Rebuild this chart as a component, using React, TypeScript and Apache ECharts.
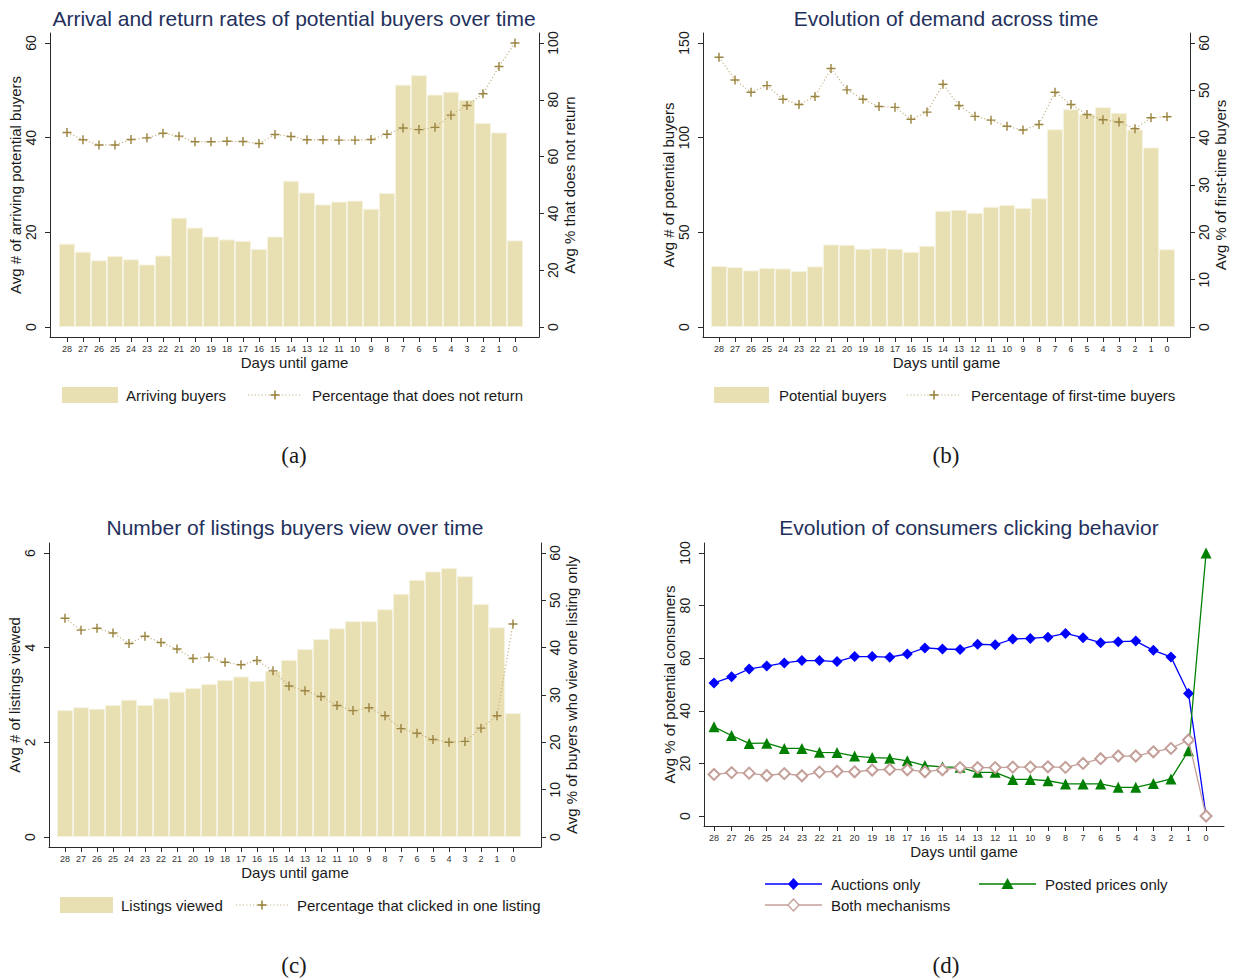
import React, { useEffect, useRef } from "react";
import * as echarts from "echarts";

// ---------------- data ----------------
const days = [28, 27, 26, 25, 24, 23, 22, 21, 20, 19, 18, 17, 16, 15, 14, 13, 12, 11, 10, 9, 8, 7, 6, 5, 4, 3, 2, 1, 0];

const arrivingBuyers = [17.6, 15.9, 14.1, 15.0, 14.3, 13.2, 15.1, 23.1, 21.0, 19.1, 18.5, 18.2, 16.5, 19.1, 30.9, 28.4, 25.9, 26.5, 26.7, 25.0, 28.3, 51.2, 53.2, 49.1, 49.7, 48.0, 43.1, 41.1, 18.3];
const pctNotReturn = [68.5, 65.9, 64.1, 64.1, 66.0, 66.6, 68.2, 67.2, 65.2, 65.2, 65.4, 65.3, 64.6, 67.8, 67.1, 65.9, 65.9, 65.8, 65.8, 66.0, 67.9, 70.1, 69.5, 70.3, 74.6, 78.0, 82.1, 91.7, 100];

const potentialBuyers = [32.2, 31.6, 29.9, 31.1, 30.9, 29.5, 32.0, 43.6, 43.4, 41.3, 41.8, 41.3, 39.7, 42.9, 61.4, 61.9, 60.3, 63.5, 64.5, 62.9, 68.0, 104.4, 115.0, 112.5, 116.1, 113.1, 104.3, 94.8, 41.0];
const pctFirstTime = [57.0, 52.2, 49.6, 51.0, 48.1, 47.0, 48.7, 54.6, 50.1, 48.1, 46.6, 46.4, 43.9, 45.4, 51.3, 46.8, 44.5, 43.7, 42.4, 41.6, 42.8, 49.6, 47.0, 44.9, 43.8, 43.3, 41.9, 44.2, 44.4];

const listingsViewed = [2.68, 2.74, 2.71, 2.79, 2.9, 2.79, 2.93, 3.07, 3.15, 3.23, 3.32, 3.39, 3.3, 3.51, 3.74, 3.97, 4.18, 4.41, 4.56, 4.56, 4.81, 5.14, 5.43, 5.61, 5.68, 5.51, 4.92, 4.43, 2.62];
const pctOneListing = [46.2, 43.7, 44.1, 43.1, 40.9, 42.4, 41.1, 39.7, 37.7, 38.0, 36.9, 36.4, 37.3, 35.1, 31.9, 30.9, 29.7, 27.8, 26.7, 27.3, 25.6, 22.9, 21.9, 20.6, 20.0, 20.2, 23.0, 25.6, 45.0];

const auctionsOnly = [50.6, 52.9, 55.9, 57.0, 58.2, 59.1, 59.1, 58.7, 60.6, 60.6, 60.4, 61.6, 63.9, 63.5, 63.3, 65.3, 65.1, 67.3, 67.5, 68.0, 69.4, 67.8, 65.9, 66.3, 66.5, 63.0, 60.5, 46.6, 0];
const postedOnly = [33.9, 30.6, 27.6, 27.7, 25.7, 25.7, 24.2, 24.1, 22.8, 22.2, 22.0, 21.0, 19.2, 18.7, 18.5, 16.6, 16.6, 13.9, 13.9, 13.4, 12.2, 12.2, 12.2, 10.9, 10.9, 12.4, 14.1, 24.8, 100];
const bothMechanisms = [15.8, 16.5, 16.3, 15.4, 16.1, 15.3, 16.7, 17.0, 16.8, 17.5, 17.7, 17.6, 16.8, 17.6, 18.4, 18.4, 18.4, 18.6, 18.6, 18.7, 18.5, 20.0, 21.8, 22.8, 22.8, 24.4, 25.7, 28.9, 0];

const ticksA = [0, 20, 40, 60];
const ticksARight = [0, 20, 40, 60, 80, 100];
const ticksB = [0, 50, 100, 150];
const ticksPct60 = [0, 10, 20, 30, 40, 50, 60];
const ticksC = [0, 2, 4, 6];
const ticksD = [0, 20, 40, 60, 80, 100];

// ---------------- styles ----------------
const SANS = "'Liberation Sans', Arial, sans-serif";
const SERIF = "'Liberation Serif', 'Times New Roman', serif";
const TITLE_COLOR = "#23305c";
const AXIS_COLOR = "#2a2a2a";
const TEXT_COLOR = "#1a1a1a";
const BAR_COLOR = "#e8dfb3";
const BAR_EDGE = "#f6f2e0";
const PLUS_COLOR = "#9c8540";
const DOT_COLOR = "#c4b386";
const BLUE = "#0000ff";
const GREEN = "#008000";
const ROSE = "#c49f99";
const PLUS = "path://M4.2,0H5.8V4.2H10V5.8H5.8V10H4.2V5.8H0V4.2H4.2Z";

const pairs = (vals: number[]) => days.map((d, i) => [d, vals[i]]);

function xAxisFor(gridIndex: number, min: number, max: number, nameGap: number) {
  return {
    type: "value",
    gridIndex,
    inverse: true,
    min,
    max,
    name: "Days until game",
    nameLocation: "middle",
    nameGap,
    nameTextStyle: { fontFamily: SANS, fontSize: 15, color: TEXT_COLOR },
    axisLine: { show: true, onZero: false, lineStyle: { color: AXIS_COLOR, width: 1 } },
    axisTick: { show: true, customValues: days, length: 5, lineStyle: { color: AXIS_COLOR, width: 1 } },
    axisLabel: { customValues: days, fontSize: 9, color: "#333", margin: 7, fontFamily: SANS },
    splitLine: { show: false },
  };
}

function yAxisFor(
  gridIndex: number,
  position: "left" | "right",
  min: number,
  max: number,
  ticks: number[],
  name: string,
) {
  const left = position === "left";
  return {
    type: "value",
    gridIndex,
    position,
    min,
    max,
    name,
    nameLocation: "middle",
    nameRotate: 90,
    nameGap: left ? 26 : 23,
    nameTextStyle: { fontFamily: SANS, fontSize: 15, color: TEXT_COLOR },
    axisLine: { show: true, onZero: false, lineStyle: { color: AXIS_COLOR, width: 1 } },
    axisTick: { show: true, customValues: ticks, length: 5, lineStyle: { color: AXIS_COLOR, width: 1 } },
    axisLabel: { customValues: ticks, rotate: 90, fontSize: 14, color: TEXT_COLOR, margin: left ? 12 : 7, fontFamily: SANS },
    splitLine: { show: false },
  };
}

function barSeries(idx: number, yIdx: number, vals: number[], name: string) {
  return {
    type: "bar",
    name,
    xAxisIndex: idx,
    yAxisIndex: yIdx,
    data: pairs(vals),
    barWidth: 16,
    itemStyle: { color: BAR_COLOR, borderColor: BAR_EDGE, borderWidth: 1 },
    z: 1,
  };
}

function plusSeries(idx: number, yIdx: number, vals: number[], name: string) {
  return {
    type: "line",
    name,
    xAxisIndex: idx,
    yAxisIndex: yIdx,
    data: pairs(vals),
    symbol: PLUS,
    symbolSize: 9,
    itemStyle: { color: PLUS_COLOR },
    lineStyle: { color: DOT_COLOR, width: 1.2, type: [1.2, 2.2] },
    z: 3,
  };
}

function textEl(text: string, x: number, y: number, opts: any = {}) {
  return {
    type: "text",
    x,
    y,
    z: 10,
    style: {
      text,
      fill: opts.fill || TEXT_COLOR,
      fontSize: opts.fontSize || 15,
      fontFamily: opts.fontFamily || SANS,
      align: opts.align || "left",
      verticalAlign: "middle",
    },
  };
}

function barLegend(x1: number, x2: number, y: number, label: string, lx1: number, lx2: number, lineLabel: string, textX1: number, textX2: number) {
  const px = (lx1 + lx2) / 2;
  return [
    { type: "rect", shape: { x: x1, y: y - 8, width: x2 - x1, height: 16 }, style: { fill: BAR_COLOR }, z: 10 },
    textEl(label, textX1, y),
    { type: "line", shape: { x1: lx1, y1: y, x2: lx2, y2: y }, style: { stroke: DOT_COLOR, lineWidth: 1.2, lineDash: [1.2, 2.2] }, z: 10 },
    { type: "line", shape: { x1: px - 4.5, y1: y, x2: px + 4.5, y2: y }, style: { stroke: PLUS_COLOR, lineWidth: 1.6 }, z: 11 },
    { type: "line", shape: { x1: px, y1: y - 4.5, x2: px, y2: y + 4.5 }, style: { stroke: PLUS_COLOR, lineWidth: 1.6 }, z: 11 },
    textEl(lineLabel, textX2, y),
  ];
}

function markerLegend(x1: number, x2: number, y: number, color: string, marker: "diamond" | "triangle" | "hollow", label: string) {
  const cx = (x1 + x2) / 2;
  const els: any[] = [
    { type: "line", shape: { x1, y1: y, x2, y2: y }, style: { stroke: color, lineWidth: 1.3 }, z: 10 },
  ];
  if (marker === "triangle") {
    els.push({ type: "polygon", shape: { points: [[cx, y - 6], [cx + 6, y + 5], [cx - 6, y + 5]] }, style: { fill: color }, z: 11 });
  } else {
    els.push({
      type: "polygon",
      shape: { points: [[cx, y - 6], [cx + 5.5, y], [cx, y + 6], [cx - 5.5, y]] },
      style: marker === "hollow" ? { fill: "#fff", stroke: color, lineWidth: 1.3 } : { fill: color },
      z: 11,
    });
  }
  els.push(textEl(label, x2 + 9, y));
  return els;
}

export default function App() {
  const ref = useRef<HTMLDivElement>(null);

  useEffect(() => {
    if (!ref.current) return;
    const chart = echarts.init(ref.current, null, { renderer: "svg" });

    const option: any = {
      animation: false,
      backgroundColor: "#ffffff",
      textStyle: { fontFamily: SANS },
      grid: [
        { left: 50, top: 33, width: 489, height: 304 },
        { left: 703, top: 33, width: 487, height: 304 },
        { left: 49, top: 543, width: 492, height: 304 },
        { left: 704, top: 543, width: 520, height: 283 },
      ],
      xAxis: [
        xAxisFor(0, -1.5, 29.0625, 18),
        xAxisFor(1, -1.4375, 29, 18),
        xAxisFor(2, -1.75, 29, 18),
        xAxisFor(3, -1.02, 28.57, 18),
      ],
      yAxis: [
        yAxisFor(0, "left", -2.113, 62.113, ticksA, "Avg # of arriving potential buyers"),
        yAxisFor(0, "right", -3.521, 103.521, ticksARight, "Avg % that does not return"),
        yAxisFor(1, "left", -5.282, 155.282, ticksB, "Avg # of potential buyers"),
        yAxisFor(1, "right", -2.113, 62.113, ticksPct60, "Avg % of first-time buyers"),
        yAxisFor(2, "left", -0.2113, 6.2113, ticksC, "Avg # of listings viewed"),
        yAxisFor(2, "right", -2.113, 62.113, ticksPct60, "Avg % of buyers who view one listing only"),
        yAxisFor(3, "left", -3.8, 103.8, ticksD, "Avg % of potential consumers"),
      ],
      series: [
        barSeries(0, 0, arrivingBuyers, "Arriving buyers"),
        plusSeries(0, 1, pctNotReturn, "Percentage that does not return"),
        barSeries(1, 2, potentialBuyers, "Potential buyers"),
        plusSeries(1, 3, pctFirstTime, "Percentage of first-time buyers"),
        barSeries(2, 4, listingsViewed, "Listings viewed"),
        plusSeries(2, 5, pctOneListing, "Percentage that clicked in one listing"),
        {
          type: "line",
          name: "Auctions only",
          xAxisIndex: 3,
          yAxisIndex: 6,
          data: pairs(auctionsOnly),
          symbol: "diamond",
          symbolSize: 11,
          itemStyle: { color: BLUE },
          lineStyle: { color: BLUE, width: 1.3 },
          z: 3,
        },
        {
          type: "line",
          name: "Posted prices only",
          xAxisIndex: 3,
          yAxisIndex: 6,
          data: pairs(postedOnly),
          symbol: "triangle",
          symbolSize: 11,
          itemStyle: { color: GREEN },
          lineStyle: { color: GREEN, width: 1.3 },
          z: 4,
        },
        {
          type: "line",
          name: "Both mechanisms",
          xAxisIndex: 3,
          yAxisIndex: 6,
          data: pairs(bothMechanisms),
          symbol: "emptyDiamond",
          symbolSize: 11,
          itemStyle: { color: ROSE, borderColor: ROSE, borderWidth: 1.3 },
          lineStyle: { color: ROSE, width: 1.3 },
          z: 5,
        },
      ],
      graphic: [
        textEl("Arrival and return rates of potential buyers over time", 294, 18, { fontSize: 21, fill: TITLE_COLOR, align: "center" }),
        textEl("Evolution of demand across time", 946, 18, { fontSize: 21, fill: TITLE_COLOR, align: "center" }),
        textEl("Number of listings buyers view over time", 295, 527, { fontSize: 21, fill: TITLE_COLOR, align: "center" }),
        textEl("Evolution of consumers clicking behavior", 969, 527, { fontSize: 21, fill: TITLE_COLOR, align: "center" }),
        ...barLegend(62, 118, 395, "Arriving buyers", 248, 302, "Percentage that does not return", 126, 312),
        ...barLegend(714, 769, 395, "Potential buyers", 907, 961, "Percentage of first-time buyers", 779, 971),
        ...barLegend(60, 113, 905, "Listings viewed", 236, 288, "Percentage that clicked in one listing", 121, 297),
        ...markerLegend(765, 822, 884, BLUE, "diamond", "Auctions only"),
        ...markerLegend(979, 1036, 884, GREEN, "triangle", "Posted prices only"),
        ...markerLegend(765, 822, 905, ROSE, "hollow", "Both mechanisms"),
        textEl("(a)", 294, 455, { fontSize: 23, fontFamily: SERIF, align: "center" }),
        textEl("(b)", 946, 455, { fontSize: 23, fontFamily: SERIF, align: "center" }),
        textEl("(c)", 294, 965, { fontSize: 23, fontFamily: SERIF, align: "center" }),
        textEl("(d)", 946, 965, { fontSize: 23, fontFamily: SERIF, align: "center" }),
      ],
    };

    chart.setOption(option);
    return () => chart.dispose();
  }, []);

  return (
    <div
      ref={ref}
      style={{ position: "absolute", left: 0, top: 0, width: 1233, height: 979, background: "#fff" }}
    />
  );
}
